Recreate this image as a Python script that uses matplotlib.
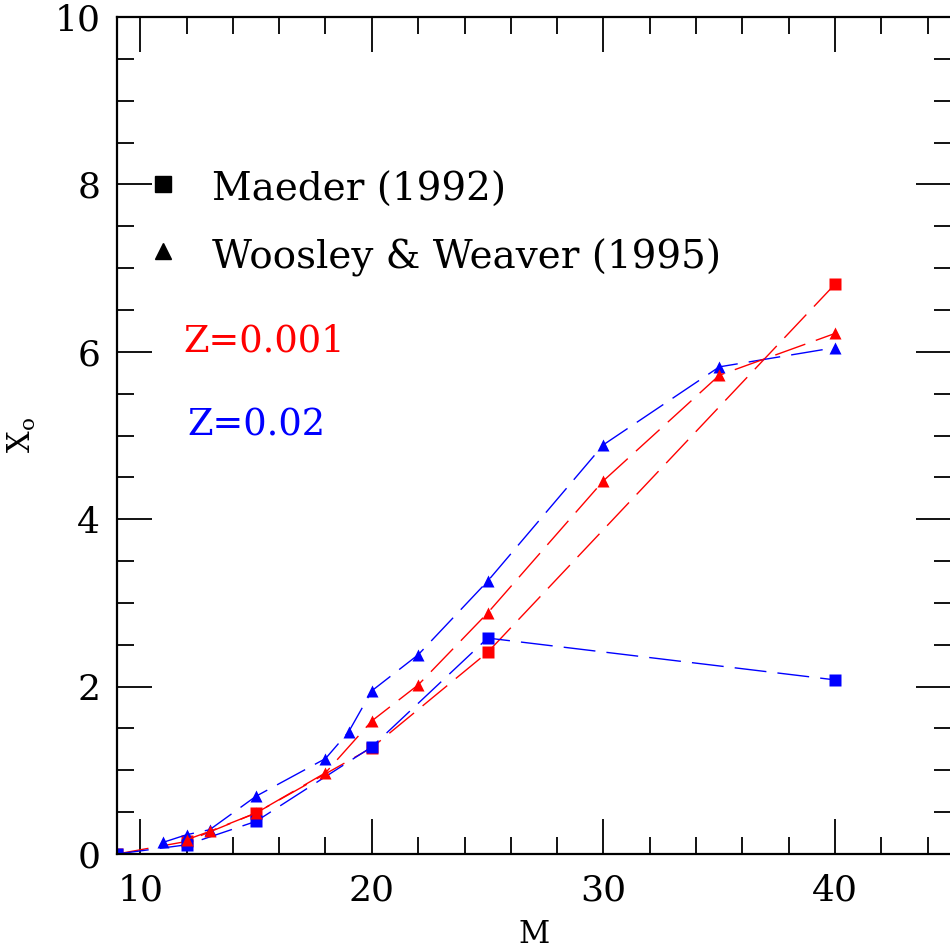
import numpy as np
import matplotlib
matplotlib.use("Agg")
import matplotlib.pyplot as plt
from matplotlib.ticker import MultipleLocator

# Maeder (1992) -- squares
m_maeder = [9, 12, 15, 20, 25, 40]
x_maeder_z001 = [0.0, 0.15, 0.49, 1.27, 2.41, 6.81]
x_maeder_z02 = [0.0, 0.11, 0.39, 1.28, 2.58, 2.08]

# Woosley & Weaver (1995) -- triangles
m_ww_z001 = [12, 13, 15, 18, 20, 22, 25, 30, 35, 40]
x_ww_z001 = [0.17, 0.27, 0.49, 0.97, 1.59, 2.02, 2.88, 4.46, 5.72, 6.22]
m_ww_z02 = [11, 12, 13, 15, 18, 19, 20, 22, 25, 30, 35, 40]
x_ww_z02 = [0.14, 0.23, 0.29, 0.69, 1.14, 1.46, 1.95, 2.38, 3.26, 4.89, 5.82, 6.05]

plt.rcParams['font.family'] = ['DejaVu Serif']
plt.rcParams['mathtext.fontset'] = 'dejavuserif'

fig = plt.figure(figsize=(9.5, 9.51), dpi=100)
ax = fig.add_axes([117 / 950, 97 / 951, 834 / 950, 837 / 951])

dash = (23, 8)
ax.plot(m_maeder, x_maeder_z001, color='red', lw=1.0, dashes=dash,
        marker='s', ms=8, mec='none')
ax.plot(m_ww_z02, x_ww_z02, color='blue', lw=1.0, dashes=dash,
        marker='^', ms=9, mec='none')
ax.plot(m_maeder, x_maeder_z02, color='blue', lw=1.0, dashes=dash,
        marker='s', ms=8, mec='none')
ax.plot(m_ww_z001, x_ww_z001, color='red', lw=1.0, dashes=dash,
        marker='^', ms=9, mec='none')

# hand-made legend
ax.plot([11], [8.0], 's', color='black', ms=11)
ax.plot([11], [7.2], '^', color='black', ms=12)
ax.text(13.1, 7.93, 'Maeder (1992)', fontsize=28, va='center', ha='left')
ax.text(13.1, 7.12, 'Woosley & Weaver (1995)', fontsize=28, va='center', ha='left')
ax.text(11.85, 6.12, 'Z=0.001', fontsize=26.5, color='red', va='center', ha='left')
ax.text(12.05, 5.12, 'Z=0.02', fontsize=26.5, color='blue', va='center', ha='left')

ax.set_xlim(9, 45)
ax.set_ylim(0, 10)
ax.xaxis.set_major_locator(MultipleLocator(10))
ax.xaxis.set_minor_locator(MultipleLocator(2))
ax.yaxis.set_major_locator(MultipleLocator(2))
ax.yaxis.set_minor_locator(MultipleLocator(0.5))
ax.tick_params(which='both', direction='in', top=True, right=True, width=1.3,
               labelsize=26)
ax.tick_params(which='major', length=25)
ax.tick_params(which='minor', length=12)
ax.tick_params(axis='x', pad=14)
ax.tick_params(axis='y', pad=12)
for s in ax.spines.values():
    s.set_linewidth(1.6)
ax.spines['right'].set_visible(False)

ax.set_xlabel('M', fontsize=22, labelpad=8)
ax.set_ylabel(r'X$_{\rm o}$', fontsize=22, labelpad=12)

fig.savefig('out.png', dpi=100)
